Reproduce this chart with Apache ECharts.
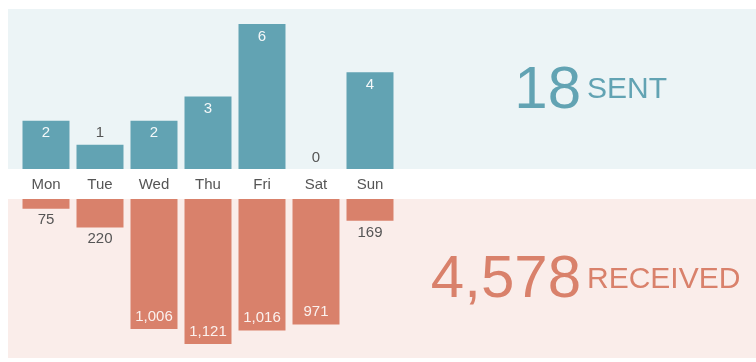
<!DOCTYPE html>
<html>
<head>
<meta charset="utf-8">
<script src="https://cdn.jsdelivr.net/npm/echarts@6/dist/echarts.min.js"></script>
<style>
html,body{margin:0;padding:0;background:#fff;}
#chart{width:756px;height:362px;}
</style>
</head>
<body>
<div id="chart"></div>
<script>
var days = ['Mon', 'Tue', 'Wed', 'Thu', 'Fri', 'Sat', 'Sun'];
var sent = [2, 1, 2, 3, 6, 0, 4];
var received = [75, 220, 1006, 1121, 1016, 971, 169];
var sentTitle = 'SENT';
var receivedTitle = 'RECEIVED';

var BLUE = '#62a3b3';
var SALMON = '#d9816b';
var FONT = '"Liberation Sans", Arial, Helvetica, sans-serif';

function fmt(v) { return v.toLocaleString('en-US'); }
function sum(a) { return a.reduce(function (s, v) { return s + v; }, 0); }

var sentMax = Math.max.apply(null, sent);
var recMax = Math.max.apply(null, received);

function sentItem(v) {
  var inside = v / sentMax > 0.25;
  return {
    value: v,
    label: inside
      ? { position: 'insideTop', distance: 5, color: '#f4f8f9' }
      : { position: 'top', distance: 4, color: '#555' }
  };
}
function recItem(v) {
  var inside = v / recMax > 0.25;
  return {
    value: v,
    label: inside
      ? { position: 'insideBottom', distance: 5, color: '#fbf1ee' }
      : { position: 'bottom', distance: 4, color: '#555' }
  };
}

var chart = echarts.init(document.getElementById('chart'), null, { renderer: 'canvas' });
chart.setOption({
  animation: false,
  textStyle: { fontFamily: FONT },
  graphic: [
    { type: 'rect', z: -10, shape: { x: 8, y: 9, width: 748, height: 160 }, style: { fill: '#ecf4f6' } },
    { type: 'rect', z: -10, shape: { x: 8, y: 199, width: 748, height: 159 }, style: { fill: '#faedea' } },
    { type: 'text', x: 581, y: 91, style: { text: fmt(sum(sent)), fill: BLUE, font: '60px ' + FONT, align: 'right', verticalAlign: 'middle' } },
    { type: 'text', x: 587, y: 90, style: { text: sentTitle, fill: BLUE, font: '30px ' + FONT, align: 'left', verticalAlign: 'middle' } },
    { type: 'text', x: 581, y: 280.5, style: { text: fmt(sum(received)), fill: SALMON, font: '60px ' + FONT, align: 'right', verticalAlign: 'middle' } },
    { type: 'text', x: 587, y: 280, style: { text: receivedTitle, fill: SALMON, font: '30px ' + FONT, align: 'left', verticalAlign: 'middle' } }
  ],
  grid: [
    { left: 19, right: 359, top: 24, bottom: 193 },
    { left: 19, right: 359, top: 199, bottom: 18 }
  ],
  xAxis: [
    {
      gridIndex: 0, type: 'category', data: days,
      axisLine: { show: false }, axisTick: { show: false },
      axisLabel: { color: '#555', fontSize: 15, margin: 8, fontFamily: FONT }
    },
    {
      gridIndex: 1, type: 'category', data: days, position: 'top',
      axisLine: { show: false }, axisTick: { show: false }, axisLabel: { show: false }
    }
  ],
  yAxis: [
    { gridIndex: 0, type: 'value', min: 0, max: 'dataMax', show: false, splitLine: { show: false } },
    { gridIndex: 1, type: 'value', min: 0, max: 'dataMax', inverse: true, show: false, splitLine: { show: false } }
  ],
  series: [
    {
      type: 'bar', xAxisIndex: 0, yAxisIndex: 0, barCategoryGap: '13%',
      itemStyle: { color: BLUE },
      label: { show: true, fontSize: 15, fontFamily: FONT, formatter: function (p) { return fmt(p.value); } },
      data: sent.map(sentItem)
    },
    {
      type: 'bar', xAxisIndex: 1, yAxisIndex: 1, barCategoryGap: '13%',
      itemStyle: { color: SALMON },
      label: { show: true, fontSize: 15, fontFamily: FONT, formatter: function (p) { return fmt(p.value); } },
      data: received.map(recItem)
    }
  ]
});
</script>
</body>
</html>
